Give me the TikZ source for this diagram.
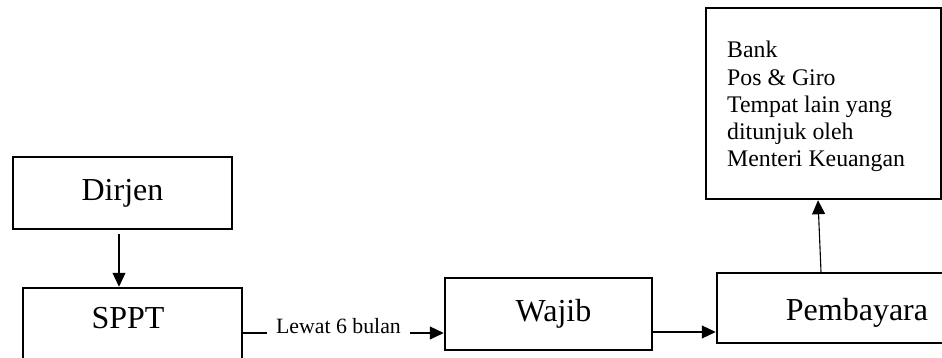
\documentclass[tikz,border=0pt]{standalone}
\usepackage{fontspec}
\setmainfont{Liberation Serif}
\usetikzlibrary{arrows.meta}
\tikzset{
  boxnode/.style={draw, line width=2.5pt, rectangle, inner sep=0pt},
  bigtext/.style={font=\fontsize{32}{38}\selectfont},
  arr/.style={line width=1.1pt, -{Triangle[length=14pt,width=13pt]}},
  plainline/.style={line width=1.1pt},
}
\begin{document}
\begin{tikzpicture}[x=1pt,y=-1pt]
\useasboundingbox (0,0) rectangle (942,358);
\clip (0,0) rectangle (942,358);
% boxes
\node[boxnode, bigtext, minimum width=219pt, minimum height=72pt] (dirjen) at (122.5,193) {Dirjen};
\node[boxnode, minimum width=219pt, minimum height=112pt] (sppt) at (132.5,344) {};
\node[bigtext, anchor=center] (spptlab) at (128,318) {SPPT};
\node[boxnode, bigtext, minimum width=207pt, minimum height=72pt] (wajib) at (548.5,314) {\hspace{10pt}Wajib};
\node[boxnode, minimum width=248pt, minimum height=70pt] (pemb) at (841,308) {};
\node[bigtext] (pemblab) at (857,313) {Pembayara};
\node[boxnode, minimum width=235pt, minimum height=191pt] (bank) at (823.5,103.5) {};
\node[anchor=north west, inner sep=0pt, align=left, font=\fontsize{23.8}{27.3}\selectfont] (banklab) at (727,41)
  {Bank\\Pos \& Giro\\Tempat lain yang\\ditunjuk oleh\\Menteri Keuangan};
% label
\node[anchor=base, inner xsep=9pt, inner ysep=0pt, font=\fontsize{21.8}{26}\selectfont] (lewat) at (338.5,333) {Lewat 6 bulan};
% connectors
\draw[arr] ([xshift=-3.5pt,yshift=-4pt]dirjen.south) -- ([xshift=-3.5pt]dirjen.south |- sppt.north);
\draw[plainline] (sppt.east |- lewat.base) -- (lewat.base west);
\draw[arr] (lewat.base east) -- (wajib.west |- lewat.base);
\draw[arr] ([yshift=-18pt]wajib.east) -- ([yshift=-18pt]wajib.east -| pemb.west);
\draw[arr] ([xshift=-20pt]pemb.north) -- ([xshift=-5.5pt]bank.south);
\end{tikzpicture}
\end{document}
